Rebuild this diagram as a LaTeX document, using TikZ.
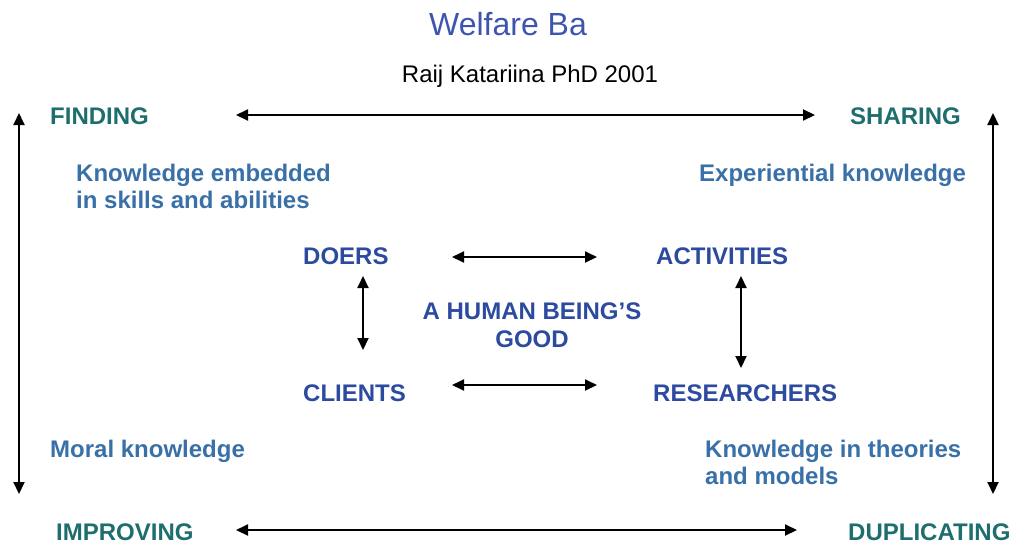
\documentclass[tikz,border=0pt]{standalone}
\usepackage{fontspec}
\setmainfont{Liberation Sans}
\usepackage{tikz}
\usetikzlibrary{arrows.meta}

\definecolor{cornerteal}{HTML}{1D6E6C}
\definecolor{knowblue}{HTML}{3970A8}
\definecolor{roleblue}{HTML}{2C4A9F}
\definecolor{titleblue}{HTML}{3E55AE}

\tikzset{
	corner/.style={anchor=base west, inner sep=0, color=cornerteal, font=\fontsize{24}{28}\selectfont\bfseries},
	know/.style={anchor=base west, inner sep=0, align=left, color=knowblue, font=\fontsize{24}{27}\selectfont\bfseries},
	role/.style={anchor=base west, inner sep=0, color=roleblue, font=\fontsize{24}{28}\selectfont\bfseries},
	twoway/.style={line width=2pt, {Triangle[length=12pt,width=11pt]}-{Triangle[length=12pt,width=11pt]}},
}

\begin{document}
\begin{tikzpicture}[x=1pt, y=-1pt]
			%%%%% START %%%%%
			
			\useasboundingbox (0, 0) rectangle (1012, 544);
			
			% heading
			\node[anchor=base, inner sep=0, color=titleblue, font=\fontsize{32}{36}\selectfont] (title) at (508, 35) {Welfare Ba};
			\node[anchor=base, inner sep=0, font=\fontsize{24}{28}\selectfont] (author) at (530, 82) {Raij Katariina PhD 2001};
			
			% the four corners
			\node[corner] (finding) at (50, 124) {FINDING};
			\node[corner] (sharing) at (850, 124) {SHARING};
			\node[corner] (improving) at (56, 540) {IMPROVING};
			\node[corner] (duplicating) at (848, 540) {DUPLICATING};
			
			% kinds of knowledge (two-line nodes sit on their last line)
			\node[know] (embedded) at (76, 208) {Knowledge embedded\\in skills and abilities};
			\node[know] (experiential) at (699, 181) {Experiential knowledge};
			\node[know] (moral) at (50, 457) {Moral knowledge};
			\node[know] (theories) at (705, 484) {Knowledge in theories\\and models};
			
			% the inner square
			\node[role] (doers) at (303, 264) {DOERS};
			\node[role] (activities) at (656, 264) {ACTIVITIES};
			\node[role] (clients) at (303, 401) {CLIENTS};
			\node[role] (researchers) at (653, 401) {RESEARCHERS};
			\node[anchor=base, inner sep=0, align=center, color=roleblue, font=\fontsize{24}{28}\selectfont\bfseries] (good) at (532, 347) {A HUMAN BEING'S\\GOOD};
			
			% arrow ends
			\coordinate (topL) at (236, 115);
			\coordinate (topR) at (815, 115);
			\coordinate (botL) at (236, 530);
			\coordinate (botR) at (797, 530);
			\coordinate (leftT) at (19, 113);
			\coordinate (leftB) at (19, 494);
			\coordinate (rightT) at (993, 113);
			\coordinate (rightB) at (993, 494);
			\coordinate (dcT) at (363, 276);
			\coordinate (dcB) at (363, 350);
			\coordinate (arT) at (741, 276);
			\coordinate (arB) at (741, 368);
			\coordinate (daL) at (452, 257);
			\coordinate (daR) at (597, 257);
			\coordinate (crL) at (452, 385);
			\coordinate (crR) at (597, 385);
			
			\draw[twoway] (topL) -- (topR);
			\draw[twoway] (botL) -- (botR);
			\draw[twoway] (leftT) -- (leftB);
			\draw[twoway] (rightT) -- (rightB);
			\draw[twoway] (daL) -- (daR);
			\draw[twoway] (crL) -- (crR);
			\draw[twoway] (dcT) -- (dcB);
			\draw[twoway] (arT) -- (arB);
			
			%%%%% END %%%%%
\end{tikzpicture}
\end{document}
